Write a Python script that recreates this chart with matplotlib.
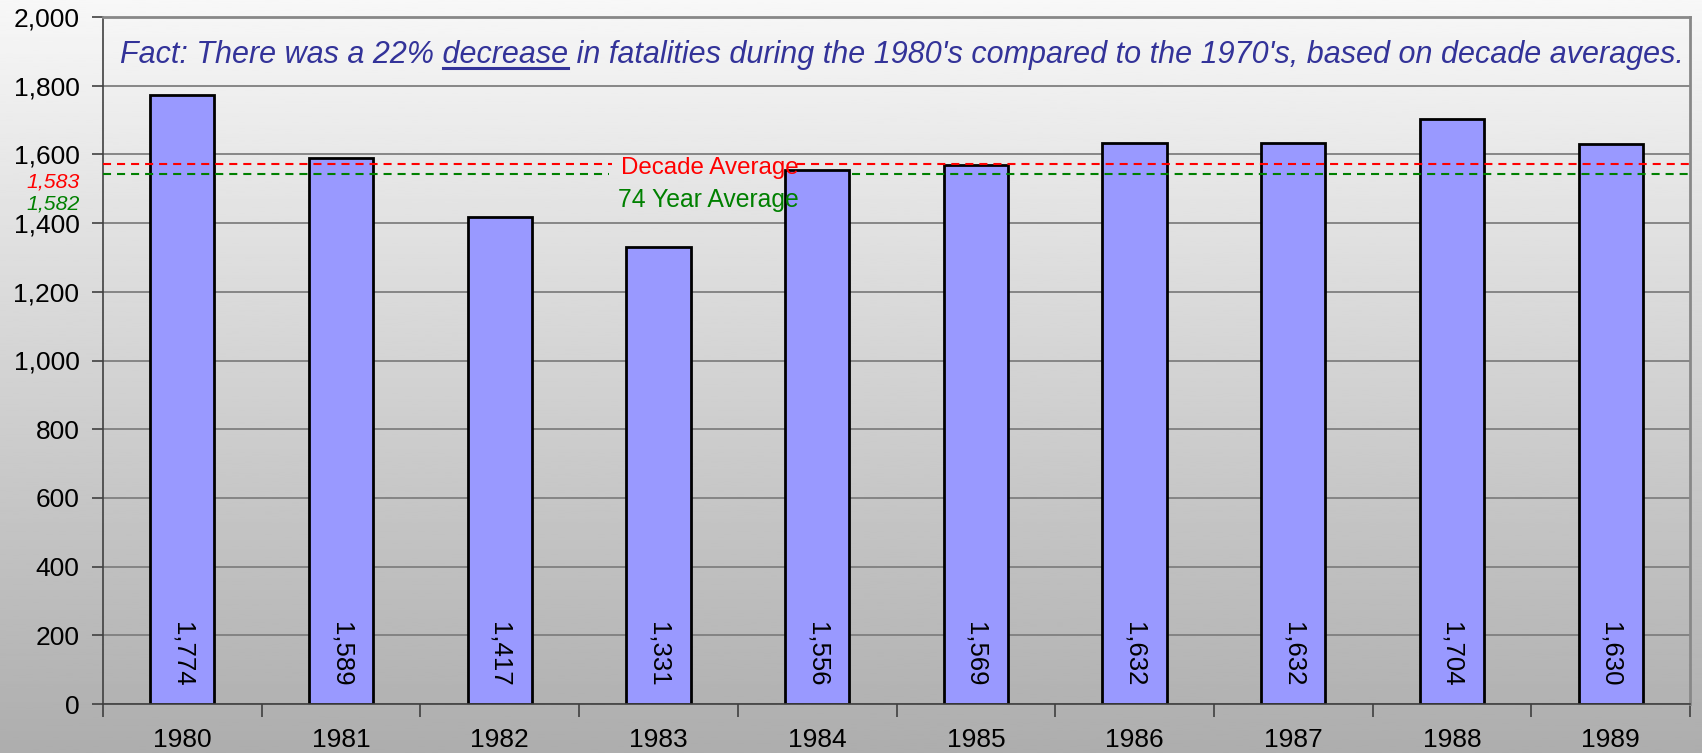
import numpy as np
import matplotlib
matplotlib.use("Agg")
import matplotlib.pyplot as plt
from matplotlib.ticker import FuncFormatter, MultipleLocator

plt.rcParams['font.family'] = ['Liberation Sans', 'DejaVu Sans']
plt.rcParams['lines.scale_dashes'] = False

# data
years = ['1980', '1981', '1982', '1983', '1984', '1985', '1986', '1987', '1988', '1989']
fatalities = [1774, 1589, 1417, 1331, 1556, 1569, 1632, 1632, 1704, 1630]
decade_avg = 1583
long_avg = 1582
# level the dashed lines are drawn at in the picture
decade_line_y = 1571
long_line_y = 1544

fact = "Fact: There was a 22% decrease in fatalities during the 1980's compared to the 1970's, based on decade averages."
fact_under = "decrease"

W, H = 1702, 753
fig = plt.figure(figsize=(W / 100, H / 100), dpi=100)

# background gradient
bg = fig.add_axes([0, 0, 1, 1], zorder=-1)
grad = np.linspace(0.97, 0.68, 256).reshape(-1, 1)
bg.imshow(grad, aspect='auto', cmap='gray', vmin=0, vmax=1, extent=(0, 1, 0, 1))
bg.axis('off')

ax = fig.add_axes([103 / W, 1 - 704 / H, (1690 - 103) / W, (704 - 17) / H])
ax.patch.set_alpha(0)

x = np.arange(len(years))
ax.bar(x, fatalities, width=0.405, color='#9999ff', edgecolor='black', linewidth=2, zorder=2)

for xi, v in zip(x, fatalities):
    ax.text(xi, 50, f"{v:,}", rotation=270, ha='center', va='bottom',
            fontsize=18.5, color='black', zorder=4)

# average lines (broken where the labels sit)
dash = (0, (5.8, 4.3))
ax.plot([-0.5, 2.71], [decade_line_y] * 2, color='#ff0000', lw=1.5, ls=dash, zorder=3)
ax.plot([3.87, 9.5], [decade_line_y] * 2, color='#ff0000', lw=1.5, ls=dash, zorder=3)
ax.plot([-0.5, 2.69], [long_line_y] * 2, color='#008000', lw=1.5, ls=dash, zorder=3)
ax.plot([4.22, 9.5], [long_line_y] * 2, color='#008000', lw=1.5, ls=dash, zorder=3)

ax.text(2.764, 1543, "Decade Average", color='#ff0000', fontsize=17.4, va='baseline', ha='left', zorder=5)
ax.text(2.745, 1447, "74 Year Average", color='#008000', fontsize=17.8, va='baseline', ha='left', zorder=5)

fig.text(80 / W, 1 - 188 / H, f"{decade_avg:,}", color='#ff0000', fontsize=15.3,
         style='italic', ha='right', va='baseline')
fig.text(80 / W, 1 - 209 / H, f"{long_avg:,}", color='#008000', fontsize=15.3,
         style='italic', ha='right', va='baseline')

ax.set_xlim(-0.5, len(years) - 0.5)
ax.set_ylim(0, 2000)
ax.yaxis.set_major_locator(MultipleLocator(200))
ax.yaxis.set_major_formatter(FuncFormatter(lambda v, p: f"{int(v):,}"))
ax.set_xticks(np.arange(-0.5, len(years)), minor=False)
ax.set_xticklabels([])
ax.set_xticks(x, minor=True)
ax.set_xticklabels(years, minor=True)
ax.tick_params(axis='x', which='minor', length=0, labelsize=19, pad=17)
ax.tick_params(axis='x', which='major', length=9, width=1.2, color='#404040', direction='out')
ax.tick_params(axis='y', length=8, width=1.2, color='#404040', labelsize=19, pad=9)

ax.grid(axis='y', color='#7f7f7f', lw=1.3, zorder=1)
ax.set_axisbelow(True)
for s in ['top', 'right']:
    ax.spines[s].set_color('#888888')
    ax.spines[s].set_linewidth(2)
ax.spines['left'].set_color('#404040')
ax.spines['left'].set_linewidth(1.2)
ax.spines['bottom'].set_color('#404040')
ax.spines['bottom'].set_linewidth(1.2)

# fact line with underlined word
fx, fy = 120 / W, 1 - 63 / H
fsz = 22
t = fig.text(fx, fy, fact, color='#333399', fontsize=fsz, style='italic', ha='left', va='baseline')
fig.canvas.draw()
r = fig.canvas.get_renderer()
pre = fact[:fact.index(fact_under) + len(fact_under)]
tmp = fig.text(fx, fy, pre, fontsize=fsz, style='italic', ha='left', va='baseline')
tmp2 = fig.text(fx, fy, fact_under, fontsize=fsz, style='italic', ha='left', va='baseline')
e1 = tmp.get_window_extent(r)
e2 = tmp2.get_window_extent(r)
tmp.remove()
tmp2.remove()
x1 = e1.x1
x0 = x1 - e2.width
uy = H - 68
fig.add_artist(plt.Line2D([x0 / W, x1 / W], [uy / H, uy / H], transform=fig.transFigure,
                          color='#333399', lw=2.2))

fig.savefig('out.png', dpi=100)
